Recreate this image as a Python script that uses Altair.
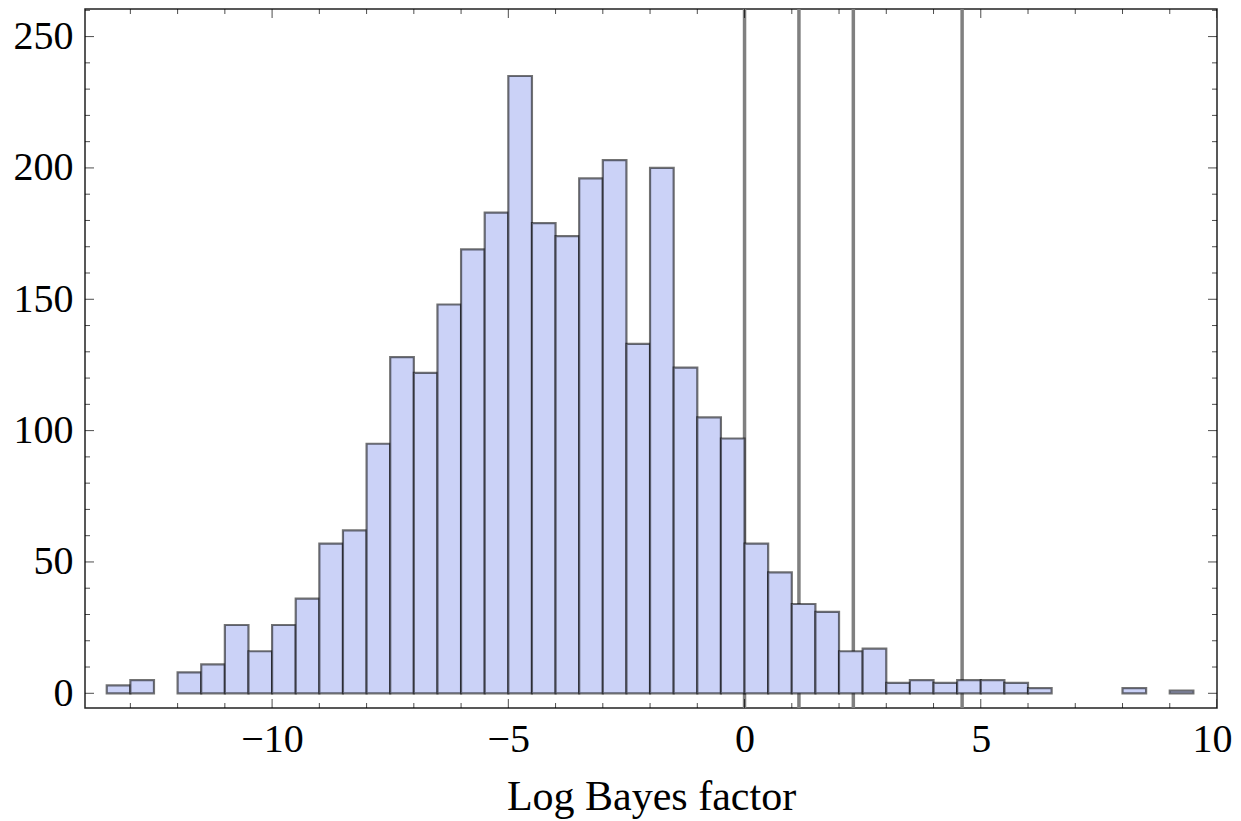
import altair as alt
import pandas as pd

# Histogram bins (width 0.5) and counts
bin_starts = [-13.5 + 0.5 * i for i in range(46)]
counts = [3, 5, 0, 8, 11, 26, 16, 26, 36, 57, 62, 95, 128, 122, 148, 169, 183, 235,
          179, 174, 196, 203, 133, 200, 124, 105, 97, 57, 46, 34, 31, 16, 17, 4, 5,
          4, 5, 5, 4, 2, 0, 0, 0, 2, 0, 1]

# Vertical reference lines (log of Jeffreys thresholds: 1, sqrt(10), 10, 100)
ref_lines = [0.0, 1.1513, 2.3026, 4.6052]

x_labels = [-10, -5, 0, 5, 10]
y_labels = [0, 50, 100, 150, 200, 250]
x_ticks = list(range(-13, 11))
y_ticks = list(range(0, 261, 10))

W, H = 1132, 699
FONT = "Liberation Serif"

bars = pd.DataFrame({
    "start": bin_starts,
    "end": [b + 0.5 for b in bin_starts],
    "count": counts,
})
lines = pd.DataFrame({"v": ref_lines})
xt = pd.DataFrame({"v": x_ticks, "len": [18 if v % 5 == 0 else 10 for v in x_ticks]})
yt = pd.DataFrame({"v": y_ticks, "len": [18 if v % 50 == 0 else 10 for v in y_ticks]})

xs = alt.Scale(domain=[-13.96, 10.0], nice=False, zero=False)
ys = alt.Scale(domain=[-5.6, 260.5], nice=False, zero=False)

xa = alt.Axis(
    values=x_labels, ticks=False, domain=False, grid=False,
    labelFont=FONT, labelFontSize=40, labelColor="black", labelPadding=11,
    labelOffset={"condition": {"test": "datum.value >= 10", "value": -5}, "value": 0},
    title="Log Bayes factor", titleFont=FONT, titleFontSize=42,
    titleFontWeight="normal", titleColor="black", titlePadding=17,
    labelFlush=False)
ya = alt.Axis(
    values=y_labels, ticks=False, domain=False, grid=False,
    labelFont=FONT, labelFontSize=40, labelColor="black", labelPadding=12,
    title=None, labelFlush=False)

rules = alt.Chart(lines).mark_rule(color="#808080", strokeWidth=3.5, clip=True).encode(
    x=alt.X("v:Q", scale=xs, axis=xa)
)

hist = alt.Chart(bars).transform_filter("datum.count > 0").mark_bar(
    fill="#CBD2F7", stroke="#000000", strokeOpacity=0.55, strokeWidth=2.2, clip=True
).encode(
    x=alt.X("start:Q", scale=xs, axis=xa),
    x2="end:Q",
    y=alt.Y("count:Q", scale=ys, axis=ya),
    y2=alt.datum(0),
)

def xtick(ypos):
    return alt.Chart(xt).mark_tick(color="black", thickness=1, clip=True, orient="vertical").encode(
        x=alt.X("v:Q", scale=xs, axis=xa),
        y=alt.value(ypos),
        size=alt.Size("len:Q", scale=None),
    )

def ytick(xpos):
    return alt.Chart(yt).mark_tick(color="black", thickness=1, clip=True, orient="horizontal").encode(
        y=alt.Y("v:Q", scale=ys, axis=ya),
        x=alt.value(xpos),
        size=alt.Size("len:Q", scale=None),
    )

chart = alt.layer(
    rules, hist, xtick(H), xtick(0), ytick(0), ytick(W)
).properties(
    width=W, height=H,
    autosize=alt.AutoSizeParams(type="none"),
    padding={"left": 77, "top": 1, "right": 16, "bottom": 112},
).configure(
    background="white"
).configure_view(
    stroke="#222222", strokeWidth=1.5
)

chart.save("out.html", embed_options={"renderer": "svg", "actions": False})
